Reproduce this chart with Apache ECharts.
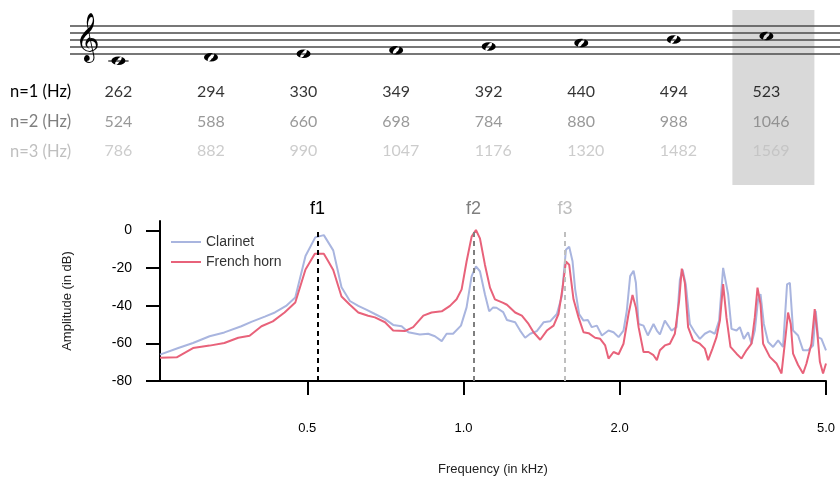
<!DOCTYPE html>
<html>
<head>
<meta charset="utf-8">
<script src="https://cdn.jsdelivr.net/npm/echarts@6/dist/echarts.min.js"></script>
<style>
    html, body { margin: 0; padding: 0; background: #fff; }
    #chart { width: 840px; height: 477px; }
</style>
</head>
<body>
<div id="chart"></div>
<script>
// 音符 C4..C5，位置以 C4 = 0 计（每一步为一个音级）
const noteNames = ['C4', 'D4', 'E4', 'F4', 'G4', 'A4', 'B4', 'C5'];
const notePos = [0, 1, 2, 3, 4, 5, 6, 7];
const staffLines = [2, 4, 6, 8, 10];

// 泛音表
const rowLabels = ['n=1 (Hz)', 'n=2 (Hz)', 'n=3 (Hz)'];
const harmonic1 = [262, 294, 330, 349, 392, 440, 494, 523];
const harmonic2 = [524, 588, 660, 698, 784, 880, 988, 1046];
const harmonic3 = [786, 882, 990, 1047, 1176, 1320, 1482, 1569];
const highlightIndex = 7;

// 频谱图
const xTicks = [0.5, 1.0, 2.0, 5.0];
const yTicks = [-80, -60, -40, -20, 0];
const fNames = ['f1', 'f2', 'f3'];
const fFreqs = [0.523, 1.046, 1.569];

// [kHz, dB]
const clarinet = [
    [0.260, -66.0], [0.282, -62.5], [0.301, -59.8], [0.324, -56.2], [0.346, -54.2], [0.373, -50.9],
    [0.390, -48.6], [0.414, -45.8], [0.433, -43.6], [0.455, -40.1], [0.474, -35.7], [0.496, -13.6],
    [0.518, -3.7], [0.538, -2.5], [0.561, -10.6], [0.582, -30.2], [0.604, -37.5], [0.627, -40.1],
    [0.651, -42.2], [0.675, -44.4], [0.706, -47.1], [0.732, -50.2], [0.760, -50.9], [0.783, -54.1],
    [0.824, -55.3], [0.855, -54.9], [0.881, -56.2], [0.908, -58.8], [0.928, -54.9], [0.955, -54.9],
    [0.989, -50.6], [1.014, -40.9], [1.037, -24.3], [1.057, -19.1], [1.076, -21.7], [1.100, -33.9],
    [1.121, -43.0], [1.141, -40.9], [1.158, -41.1], [1.193, -43.4], [1.213, -47.6], [1.258, -48.8],
    [1.286, -53.2], [1.315, -57.0], [1.345, -54.9], [1.385, -53.5], [1.427, -48.8], [1.469, -48.3],
    [1.514, -44.4], [1.548, -34.8], [1.576, -10.3], [1.599, -8.6], [1.623, -16.4], [1.642, -31.3],
    [1.671, -44.4], [1.704, -47.9], [1.737, -47.6], [1.768, -51.4], [1.808, -50.6], [1.849, -55.8],
    [1.904, -53.2], [1.947, -54.1], [1.991, -56.7], [2.035, -53.2], [2.065, -42.7], [2.096, -24.3],
    [2.128, -21.4], [2.150, -27.8], [2.176, -49.7], [2.224, -50.6], [2.267, -55.8], [2.325, -49.7],
    [2.360, -53.2], [2.392, -55.3], [2.445, -47.9], [2.518, -53.2], [2.575, -51.4], [2.614, -26.1],
    [2.645, -20.8], [2.683, -28.7], [2.732, -49.7], [2.793, -54.1], [2.856, -57.6], [2.920, -54.9],
    [2.986, -53.5], [3.052, -54.9], [3.111, -47.9], [3.167, -19.9], [3.195, -19.6], [3.238, -33.9],
    [3.287, -52.3], [3.361, -53.2], [3.411, -51.4], [3.472, -57.6], [3.538, -54.1], [3.592, -60.2],
    [3.645, -53.2], [3.699, -36.6], [3.739, -33.9], [3.794, -49.7], [3.867, -59.3], [3.954, -61.9],
    [4.043, -58.4], [4.132, -61.9], [4.206, -28.7], [4.259, -27.8], [4.320, -53.2], [4.417, -55.8],
    [4.516, -63.7], [4.617, -63.7], [4.721, -61.1], [4.778, -42.7], [4.827, -56.7], [4.900, -57.6],
    [5.000, -63.7]
];

const frenchHorn = [
    [0.260, -67.7], [0.280, -67.4], [0.301, -62.5], [0.324, -61.2], [0.346, -59.8], [0.368, -57.0],
    [0.387, -56.0], [0.408, -50.9], [0.429, -48.3], [0.452, -43.6], [0.474, -38.3], [0.496, -20.8],
    [0.517, -12.4], [0.538, -12.4], [0.548, -16.1], [0.561, -21.0], [0.582, -35.1], [0.604, -39.5],
    [0.627, -43.6], [0.655, -45.3], [0.675, -46.2], [0.706, -48.8], [0.732, -53.2], [0.771, -53.5],
    [0.800, -51.4], [0.837, -45.3], [0.868, -43.6], [0.908, -43.0], [0.942, -40.1], [0.970, -36.6],
    [0.992, -31.3], [1.014, -16.5], [1.037, -3.3], [1.057, 0.2], [1.076, -4.2], [1.100, -18.2],
    [1.125, -30.4], [1.150, -36.6], [1.193, -38.5], [1.213, -39.5], [1.258, -43.6], [1.296, -45.3],
    [1.335, -49.7], [1.365, -54.1], [1.406, -58.1], [1.448, -53.2], [1.492, -50.6], [1.525, -44.4],
    [1.553, -30.4], [1.576, -16.5], [1.599, -18.2], [1.630, -36.6], [1.667, -46.2], [1.704, -54.1],
    [1.743, -54.6], [1.794, -57.0], [1.835, -57.6], [1.876, -61.1], [1.904, -68.1], [1.947, -64.6],
    [1.991, -65.8], [2.035, -60.2], [2.081, -44.4], [2.118, -34.3], [2.150, -40.9], [2.176, -51.4],
    [2.224, -64.6], [2.274, -64.6], [2.325, -66.3], [2.360, -68.9], [2.392, -63.7], [2.445, -61.1],
    [2.500, -60.2], [2.556, -54.9], [2.605, -37.4], [2.636, -20.3], [2.672, -27.8], [2.711, -51.4],
    [2.772, -58.4], [2.856, -60.2], [2.920, -62.8], [2.963, -68.9], [3.021, -62.8], [3.075, -56.7],
    [3.122, -47.9], [3.167, -28.5], [3.214, -46.2], [3.272, -61.9], [3.361, -65.5], [3.436, -68.1],
    [3.513, -63.7], [3.592, -60.2], [3.645, -46.2], [3.689, -30.4], [3.739, -39.2], [3.782, -60.2],
    [3.896, -67.2], [4.014, -70.7], [4.104, -76.0], [4.164, -60.2], [4.225, -43.6], [4.276, -49.7],
    [4.320, -65.5], [4.417, -71.5], [4.516, -76.0], [4.585, -70.7], [4.687, -60.2], [4.756, -41.8],
    [4.806, -53.2], [4.866, -69.8], [4.935, -76.0], [5.000, -70.7]
];

const rowColors = ['#000000', '#7f7f7f', '#bfbfbf'];
const fColors = ['#000000', '#7f7f7f', '#bfbfbf'];
const FONT = 'Liberation Sans';

// 全音符
const wholeNote = 'path://M0,6A10,6 0 1,1 20,6A10,6 0 1,1 0,6Z' +
    'M11,8.8A2.6,4.4 20 1,0 9,3.2A2.6,4.4 20 1,0 11,8.8Z';

const chart = echarts.init(document.getElementById('chart'));

// 加线（五线谱下方）
const ledgers = [];
notePos.forEach((p, i) => {
    if (p < staffLines[0]) {
        for (let l = staffLines[0] - 2; l >= p; l -= 2) {
            ledgers.push([{ coord: [i - 0.11, l] }, { coord: [i + 0.11, l] }]);
        }
    }
});

const tableRows = [harmonic1, harmonic2, harmonic3];

const option = {
    animation: false,
    textStyle: { fontFamily: FONT },
    legend: {
        data: ['Clarinet', 'French horn'],
        orient: 'vertical',
        left: 166,
        top: 230,
        icon: 'rect',
        itemWidth: 30,
        itemHeight: 2,
        itemGap: 6,
        textStyle: { fontSize: 14, color: '#333', fontFamily: FONT }
    },
    grid: [
        { left: 160, right: 14, top: 221, bottom: 94.5 },
        { left: 70, right: 0, top: 25.3, height: 35.5 },
        { left: 70, right: 0, top: 76.8, height: 89.4 }
    ],
    xAxis: [
        {
            type: 'log',
            gridIndex: 0,
            min: 0.26,
            max: 5,
            name: 'Frequency (in kHz)',
            nameLocation: 'middle',
            nameGap: 82,
            nameTextStyle: { fontSize: 13, color: '#222' },
            axisLine: { onZero: false, lineStyle: { color: '#000', width: 2 } },
            axisTick: { customValues: xTicks, length: 14, lineStyle: { color: '#000', width: 2 } },
            axisLabel: {
                customValues: xTicks,
                formatter: v => Number(v).toFixed(1),
                margin: 41,
                fontSize: 13,
                color: '#000'
            },
            splitLine: { show: false },
            minorTick: { show: false }
        },
        { type: 'value', gridIndex: 1, min: -0.523, max: 7.795, show: false },
        { type: 'value', gridIndex: 2, min: -0.523, max: 7.795, show: false }
    ],
    yAxis: [
        {
            type: 'value',
            gridIndex: 0,
            min: -80,
            max: 5,
            name: 'Amplitude (in dB)',
            nameLocation: 'middle',
            nameGap: 86,
            nameTextStyle: { fontSize: 13, color: '#222' },
            axisLine: { show: true, lineStyle: { color: '#000', width: 2 } },
            axisTick: { show: true, customValues: yTicks, length: 14, lineStyle: { color: '#000', width: 2 } },
            axisLabel: { customValues: yTicks, margin: 28, fontSize: 14, color: '#000' },
            splitLine: { show: false }
        },
        { type: 'value', gridIndex: 1, min: 0, max: 10, show: false },
        {
            type: 'category',
            gridIndex: 2,
            data: rowLabels,
            inverse: true,
            axisLine: { show: false },
            axisTick: { show: false },
            splitLine: { show: false },
            axisLabel: {
                margin: 60,
                align: 'left',
                fontSize: 16.5,
                fontFamily: 'Lato',
                color: (v, i) => rowColors[i]
            }
        }
    ],
    series: [
        {
            name: 'notes',
            type: 'scatter',
            xAxisIndex: 1,
            yAxisIndex: 1,
            clip: false,
            silent: true,
            z: 5,
            symbol: wholeNote,
            symbolSize: [14, 8.5],
            itemStyle: { color: '#000', opacity: 1 },
            data: notePos.map((p, i) => [i, p]),
            markLine: {
                silent: true,
                symbol: ['none', 'none'],
                label: { show: false },
                lineStyle: { color: '#4a4a4a', width: 1.5, type: 'solid' },
                data: staffLines.map(v => ({ yAxis: v })).concat(ledgers)
            }
        },
        ...tableRows.map((row, r) => ({
            name: rowLabels[r],
            type: 'scatter',
            xAxisIndex: 2,
            yAxisIndex: 2,
            silent: true,
            clip: false,
            symbolSize: 1,
            itemStyle: { color: 'rgba(0,0,0,0)' },
            label: {
                show: true,
                position: 'inside',
                align: 'left',
                offset: [-14, 0],
                formatter: p => p.value[2],
                fontSize: 16,
                fontFamily: 'Lato',
                color: rowColors[r]
            },
            data: row.map((v, i) => [i, rowLabels[r], v])
        })),
        {
            name: 'Clarinet',
            type: 'line',
            xAxisIndex: 0,
            yAxisIndex: 0,
            symbol: 'none',
            z: 3,
            lineStyle: { color: '#a9b5df', width: 2 },
            itemStyle: { color: '#a9b5df' },
            data: clarinet
        },
        {
            name: 'French horn',
            type: 'line',
            xAxisIndex: 0,
            yAxisIndex: 0,
            symbol: 'none',
            z: 4,
            lineStyle: { color: '#e8627a', width: 2 },
            itemStyle: { color: '#e8627a' },
            data: frenchHorn,
            markLine: {
                silent: true,
                symbol: ['none', 'none'],
                data: fFreqs.map((f, i) => [
                    {
                        coord: [f, -80],
                        lineStyle: { color: fColors[i], width: 2, type: [5, 4] },
                        label: {
                            show: true,
                            position: 'end',
                            distance: 12,
                            formatter: fNames[i],
                            fontSize: 18,
                            color: fColors[i]
                        }
                    },
                    { coord: [f, 0] }
                ])
            }
        }
    ],
    graphic: [
        {
            type: 'text',
            id: 'clef',
            left: 75,
            top: 19,
            z: 10,
            style: { text: '\u{1D11E}', font: '42px "DejaVu Sans"', fill: '#000' }
        }
    ]
};

chart.setOption(option);

// 高亮列（523 Hz）
const cx = chart.convertToPixel({ xAxisIndex: 1 }, highlightIndex);
chart.setOption({
    graphic: [
        {
            type: 'rect',
            id: 'highlight',
            z: -1,
            shape: { x: cx - 34, y: 10, width: 82, height: 175 },
            style: { fill: '#d9d9d9' }
        }
    ]
});
</script>
</body>
</html>
